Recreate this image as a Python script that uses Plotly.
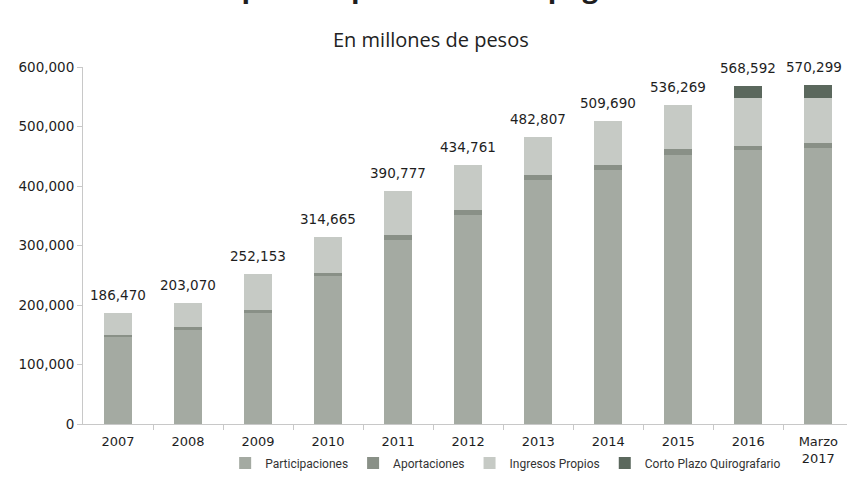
import plotly.graph_objects as go

categories = ["2007", "2008", "2009", "2010", "2011", "2012", "2013", "2014", "2015", "2016", "Marzo<br>2017"]
participaciones = [146000, 158000, 186000, 248000, 310000, 352000, 410000, 427000, 452000, 460000, 464000]
aportaciones = [4000, 5000, 5000, 6000, 7000, 7000, 8000, 8000, 10000, 8000, 8000]
ingresos_propios = [36470, 40070, 61153, 60665, 73777, 75761, 64807, 74690, 74269, 80592, 76299]
corto_plazo = [0, 0, 0, 0, 0, 0, 0, 0, 0, 20000, 22000]
totals = [186470, 203070, 252153, 314665, 390777, 434761, 482807, 509690, 536269, 568592, 570299]
y_ticks = [0, 100000, 200000, 300000, 400000, 500000, 600000]

series = [
    ("Participaciones", participaciones, "#a4aaa2"),
    ("Aportaciones", aportaciones, "#899087"),
    ("Ingresos Propios", ingresos_propios, "#c6cac5"),
    ("Corto Plazo Quirografario", corto_plazo, "#5b685d"),
]

fig = go.Figure()
for name, vals, color in series:
    fig.add_trace(go.Bar(x=list(range(len(categories))), y=vals, name=name, marker_color=color,
                         marker_line_width=0))

last = len(totals) - 1
for i, t in enumerate(totals):
    fig.add_annotation(x=i, y=t, text=f"{t:,}", showarrow=False, yanchor="bottom",
                       xanchor="center", xshift=-4 if i == last else 0,
                       yshift=8, font=dict(family="DejaVu Sans", size=13.5, color="#1e1e1e"))

fig.add_annotation(xref="paper", yref="paper", x=0.389, y=1.168, xanchor="center", yanchor="bottom",
                   text="<b>Deuda pública por fuente de pago</b>", showarrow=False,
                   font=dict(family="Open Sans", size=28, color="#1e1e1e"))
fig.add_annotation(xref="paper", yref="paper", x=(431 - 83) / 764, y=1 + (67 - 39) / 357,
                   xanchor="center", yanchor="middle", text="En millones de pesos", showarrow=False,
                   font=dict(family="Open Sans", size=20, color="#222222"))

fig.update_layout(
    width=847, height=478,
    margin=dict(l=83, r=0, t=67, b=54, autoexpand=False),
    barmode="stack", bargap=0.6,
    plot_bgcolor="white", paper_bgcolor="white",
    showlegend=True,
    legend=dict(orientation="h", xref="container", yref="container", x=0.597, y=1 - 463 / 478,
                xanchor="center", yanchor="middle", traceorder="normal",
                font=dict(family="Roboto", size=12, color="#333333"), itemwidth=30,
                bgcolor="rgba(0,0,0,0)"),
    xaxis=dict(range=[-0.5, 10.41], showline=True, linecolor="#c8c8c8", automargin=False,
               tickmode="array", tickvals=list(range(len(categories))), ticktext=categories,
               ticks="", ticklabelstandoff=5,
               tickfont=dict(family="DejaVu Sans", size=13, color="#1e1e1e"), showgrid=False,
               zeroline=False,
               minor=dict(tickmode="array", tickvals=[i + 0.5 for i in range(len(categories))],
                          ticks="outside", ticklen=5, tickcolor="#c8c8c8")),
    yaxis=dict(range=[0, 600000], tickvals=y_ticks, tickformat=",", showline=True, automargin=False,
               linecolor="#c8c8c8", ticks="outside", ticklen=5, tickcolor="#c8c8c8",
               tickfont=dict(family="DejaVu Sans", size=13.5, color="#1e1e1e"), showgrid=False,
               zeroline=False),
)

fig.write_html("out.html", config={"displayModeBar": False},
               post_script="document.body.style.margin='0';document.body.style.overflow='hidden';")
